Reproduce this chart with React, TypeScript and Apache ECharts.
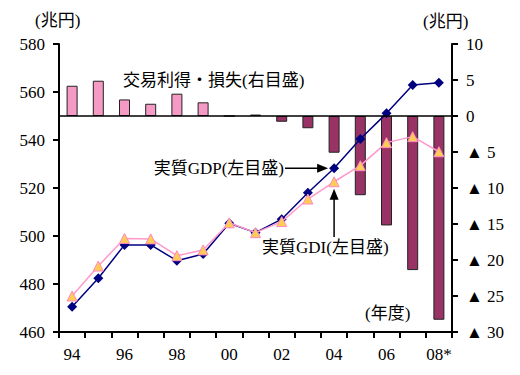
import React, { useEffect, useRef } from "react";
import * as echarts from "echarts";

const years = ["94", "95", "96", "97", "98", "99", "00", "01", "02", "03", "04", "05", "06", "07", "08*"];
const realGDP = [470.5, 482.4, 496.3, 496.3, 489.7, 492.5, 505.3, 501.4, 507.0, 518.0, 528.2, 540.4, 551.1, 562.9, 563.9];
const realGDI = [475.0, 487.5, 499.0, 498.8, 491.8, 494.2, 505.5, 501.4, 506.0, 515.4, 522.6, 529.3, 538.9, 541.4, 535.1];
const tradeGainLoss = [4.2, 4.9, 2.3, 1.7, 3.1, 1.9, 0, 0.2, -0.8, -1.7, -5.1, -11.0, -15.2, -21.4, -28.3];

const numFont = "'Liberation Serif', 'DejaVu Serif', serif";
const jpFont = "'Liberation Serif', 'Noto Sans CJK JP', sans-serif";

export default function App() {
  const ref = useRef<HTMLDivElement>(null);
  useEffect(() => {
    if (!ref.current) return;
    const chart = echarts.init(ref.current, null, { renderer: "svg" });
    const axisCommon = {
      axisLine: { show: true, onZero: false, lineStyle: { color: "#000", width: 2 } },
      axisTick: { show: true, length: 6, lineStyle: { color: "#000", width: 2 } },
      splitLine: { show: false },
    };
    chart.setOption({
      animation: false,
      backgroundColor: "#fff",
      grid: { left: 59, right: 68, top: 44, bottom: 43 },
      xAxis: {
        type: "category",
        data: years,
        axisLine: { show: true, onZero: false, lineStyle: { color: "#000", width: 2 } },
        axisTick: { show: true, interval: 0, length: 6, lineStyle: { color: "#000", width: 2 } },
        axisLabel: { interval: 1, color: "#000", fontFamily: numFont, fontSize: 17, margin: 14 },
      },
      yAxis: [
        {
          type: "value",
          min: 460,
          max: 580,
          interval: 20,
          ...axisCommon,
          axisLabel: { color: "#000", fontFamily: numFont, fontSize: 17, margin: 14 },
        },
        {
          type: "value",
          min: -30,
          max: 10,
          interval: 5,
          position: "right",
          ...axisCommon,
          axisLabel: {
            color: "#000",
            fontFamily: numFont,
            fontSize: 17,
            margin: 14,
            formatter: (v: number) => (v < 0 ? "▲ " + -v : String(v)),
          },
        },
      ],
      series: [
        {
          type: "bar",
          yAxisIndex: 1,
          barWidth: 11,
          data: tradeGainLoss.map((v) => ({
            value: v,
            itemStyle: {
              color: v >= 0 ? "#F59AC4" : "#993366",
              borderColor: "#222",
              borderWidth: 1,
            },
          })),
          markLine: {
            silent: true,
            symbol: "none",
            label: { show: false },
            lineStyle: { color: "#000", width: 1.5, type: "solid" },
            data: [{ yAxis: 0 }],
          },
          z: 1,
        },
        {
          type: "line",
          yAxisIndex: 0,
          data: realGDP,
          symbol: "diamond",
          symbolSize: 10,
          lineStyle: { color: "#000080", width: 1.5 },
          itemStyle: { color: "#000080" },
          z: 3,
        },
        {
          type: "line",
          yAxisIndex: 0,
          data: realGDI,
          symbol: "triangle",
          symbolSize: 10,
          lineStyle: { color: "#FF99CC", width: 1.5 },
          itemStyle: { color: "#FFCC55", borderColor: "#FF88C4", borderWidth: 1 },
          z: 4,
        },
      ],
    });

    const pG = chart.convertToPixel({ seriesIndex: 1 }, [10, realGDP[10]]) as number[];
    const pI = chart.convertToPixel({ seriesIndex: 2 }, [10, realGDI[10]]) as number[];
    const txt = (x: number, y: number, s: string, align = "left") => ({
      type: "text",
      x,
      y,
      style: { text: s, fill: "#000", font: `17px ${jpFont}`, textAlign: align, textVerticalAlign: "middle" },
    });
    const gx = pG[0] - 6;
    const gy = pG[1];
    const ix = pI[0];
    const iy = pI[1] + 7;
    chart.setOption({
      graphic: [
        txt(35, 20, "(兆円)"),
        txt(423, 21, "(兆円)"),
        txt(123, 80, "交易利得・損失(右目盛)"),
        txt(284, gy, "実質GDP(左目盛)", "right"),
        txt(262, 247, "実質GDI(左目盛)"),
        txt(365, 313, "(年度)"),
        { type: "line", shape: { x1: 285, y1: gy, x2: gx - 8, y2: gy }, style: { stroke: "#000", lineWidth: 1.5 } },
        { type: "polygon", shape: { points: [[gx, gy], [gx - 11, gy - 4.5], [gx - 11, gy + 4.5]] }, style: { fill: "#000" } },
        { type: "line", shape: { x1: ix, y1: iy + 8, x2: ix, y2: 237 }, style: { stroke: "#000", lineWidth: 1.5 } },
        { type: "polygon", shape: { points: [[ix, iy], [ix - 4.5, iy + 11], [ix + 4.5, iy + 11]] }, style: { fill: "#000" } },
      ],
    });
    return () => chart.dispose();
  }, []);
  return <div ref={ref} style={{ position: "fixed", left: 0, top: 0, width: 520, height: 375 }} />;
}
